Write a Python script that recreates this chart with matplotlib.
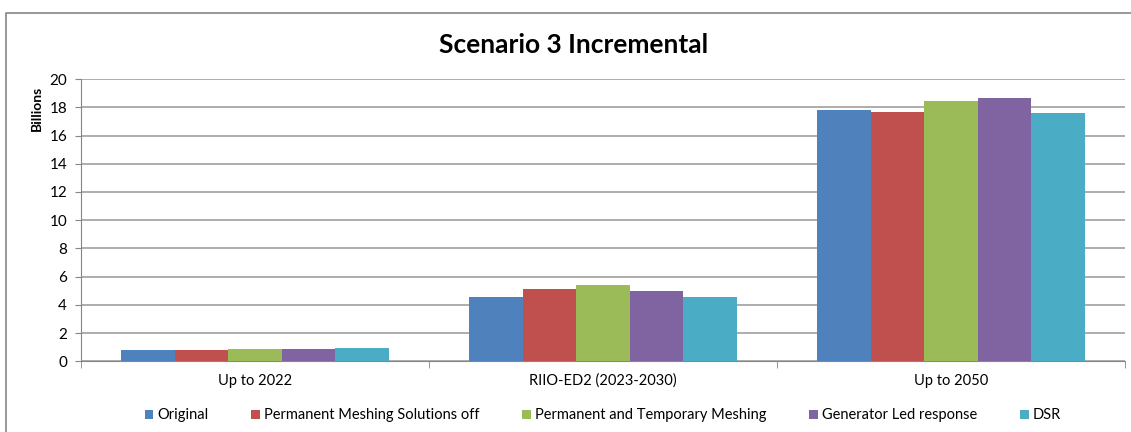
import numpy as np
import matplotlib.pyplot as plt
from matplotlib.lines import Line2D

plt.rcParams['font.family'] = ['Lato', 'DejaVu Sans']

# data (billions)
categories = ['Up to 2022', 'RIIO-ED2 (2023-2030)', 'Up to 2050']
series_names = ['Original', 'Permanent Meshing Solutions off',
                'Permanent and Temporary Meshing', 'Generator Led response', 'DSR']
original = [0.83, 4.55, 17.82]
meshing_off = [0.83, 5.15, 17.70]
perm_temp = [0.87, 5.38, 18.41]
generator = [0.84, 5.00, 18.65]
dsr = [0.92, 4.55, 17.60]
colors = ['#4F81BD', '#C0504D', '#9BBB59', '#8064A2', '#4BACC6']

values = [original, meshing_off, perm_temp, generator, dsr]

fig = plt.figure(figsize=(11.31, 4.32), dpi=100)
ax = fig.add_axes([0.0716, 0.1637, 0.923, 0.6533])

x = np.arange(len(categories))
group_w = 0.77
bw = group_w / len(values)
for i, (vals, name, c) in enumerate(zip(values, series_names, colors)):
    ax.bar(x - group_w / 2 + bw * (i + 0.5), vals, bw, color=c, label=name, zorder=3)

ax.set_xlim(-0.5, len(categories) - 0.5)
ax.set_ylim(0, 20)
ax.set_yticks(range(0, 21, 2))
ax.tick_params(axis='y', labelsize=11, length=4, color='#868686', pad=6)
ax.set_xticks(x)
ax.set_xticklabels(categories, fontsize=10.5)
ax.tick_params(axis='x', length=0, pad=9)
# boundary ticks between categories
ax.set_xticks(np.arange(-0.5, len(categories) + 0.5, 1), minor=True)
ax.tick_params(axis='x', which='minor', length=5, color='#868686')
ax.yaxis.grid(True, color='#A0A0A0', linewidth=1.2, zorder=0)
ax.set_axisbelow(True)
for s in ['top', 'right']:
    ax.spines[s].set_visible(False)
for s in ['left', 'bottom']:
    ax.spines[s].set_color('#868686')

# axis title sits at the top of the value axis, like Excel
fig.text(37 / 1131, 1 - 108 / 432, 'Billions', rotation=90, fontsize=10,
         fontweight='bold', ha='center', va='center')

fig.text(574 / 1131, 1 - 45 / 432, 'Scenario 3 Incremental', fontsize=19,
         fontweight='bold', ha='center', va='center')

ax.legend(loc='upper center', bbox_to_anchor=(0.5, -0.12), ncol=5, frameon=False,
          fontsize=10.5, handlelength=0.6, handleheight=0.6, handletextpad=0.3,
          columnspacing=2.9)

# chart area border (top and left visible)
fig.add_artist(Line2D([6 / 1131, 6 / 1131, 1.0], [0.0, 1 - 13 / 432, 1 - 13 / 432],
                      transform=fig.transFigure, color='#868686', linewidth=1.2))

fig.savefig('out.png', dpi=100)
